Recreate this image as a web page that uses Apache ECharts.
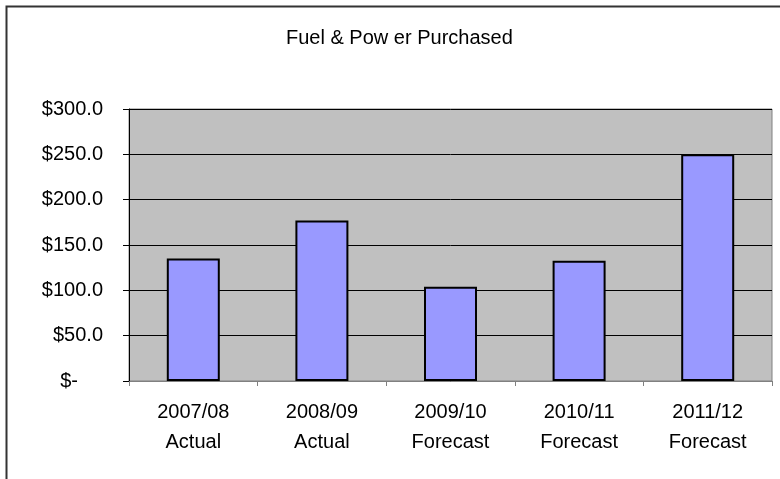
<!DOCTYPE html>
<html>
<head>
<meta charset="utf-8">
<script src="https://cdn.jsdelivr.net/npm/echarts@6/dist/echarts.min.js"></script>
<style>
  html, body { margin: 0; padding: 0; background: #fff; }
  #chart { width: 780px; height: 479px; }
</style>
</head>
<body>
<div id="chart"></div>
<script>
// Fiscal years and their status
const years = ['2007/08', '2008/09', '2009/10', '2010/11', '2011/12'];
const status = ['Actual', 'Actual', 'Forecast', 'Forecast', 'Forecast'];
// Fuel & power purchased, $ millions
const purchased = [135.0, 177.0, 104.0, 132.5, 250.0];
// Value axis ticks
const yTicks = [0, 50, 100, 150, 200, 250, 300];

const categories = years.map((y, i) => y + '\n' + status[i]);
const FONT = '"Liberation Sans", Arial, sans-serif';

const chart = echarts.init(document.getElementById('chart'), null, { renderer: 'canvas' });
chart.setOption({
  backgroundColor: '#ffffff',
  animation: false,
  title: {
    text: 'Fuel & Pow er Purchased',
    left: 281,
    top: 23,
    textStyle: { fontFamily: FONT, fontSize: 20, fontWeight: 'normal', color: '#000' }
  },
  graphic: [{
    type: 'rect',
    shape: { x: 6.5, y: 6.5, width: 820, height: 520 },
    style: { fill: 'none', stroke: '#333', lineWidth: 2 },
    silent: true
  }],
  grid: {
    left: 129, top: 109, right: 8, bottom: 98,
    show: true,
    backgroundColor: '#C0C0C0',
    borderColor: '#808080',
    borderWidth: 1
  },
  xAxis: {
    type: 'category',
    data: categories,
    axisLine: { lineStyle: { color: '#808080', width: 1 } },
    axisTick: { show: true, length: 5, alignWithLabel: false, lineStyle: { color: '#808080' } },
    axisLabel: {
      margin: 16,
      fontFamily: FONT, fontSize: 20, color: '#000',
      lineHeight: 30, interval: 0
    },
    splitLine: { show: false }
  },
  yAxis: {
    type: 'value',
    min: yTicks[0],
    max: yTicks[yTicks.length - 1],
    interval: 50,
    axisLine: { show: true, lineStyle: { color: '#000', width: 1 } },
    axisTick: { show: true, length: 6, lineStyle: { color: '#000' } },
    axisLabel: {
      margin: 26,
      fontFamily: FONT, fontSize: 20, color: '#000',
      formatter: v => v === 0 ? '{z|$-}' : '$' + v.toFixed(1),
      rich: { z: { fontFamily: FONT, fontSize: 20, color: '#000', padding: [0, 25, 0, 0] } }
    },
    splitLine: { show: true, lineStyle: { color: '#000', width: 1 } }
  },
  series: [{
    type: 'bar',
    data: purchased,
    barWidth: 53,
    itemStyle: { color: '#9999FF', borderColor: '#000', borderWidth: 2 }
  }]
});
</script>
</body>
</html>
